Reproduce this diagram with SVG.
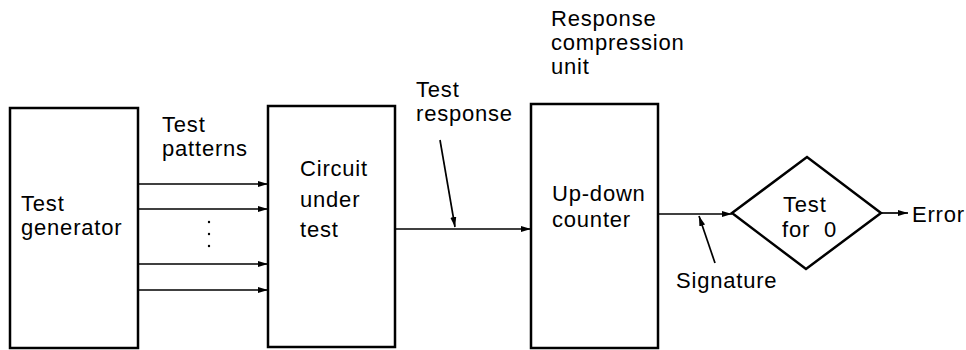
<svg xmlns="http://www.w3.org/2000/svg" width="966" height="350" viewBox="0 0 966 350">
<style>
.box{fill:none;stroke:#000;stroke-width:2.5}
.ln{fill:none;stroke:#000;stroke-width:1.7}
text{font-family:"Liberation Sans",Arial,sans-serif;font-size:22px;letter-spacing:0.8px;fill:#000}
</style>
<defs>
<marker id="ah" viewBox="0 0 10 8" refX="10" refY="4" markerWidth="10" markerHeight="8" markerUnits="userSpaceOnUse" orient="auto">
<path d="M0,1 L10,4 L0,7 z" fill="#000"/>
</marker>
</defs>
<rect width="966" height="350" fill="#fff"/>
<g id="test-generator">
<rect class="box" x="10" y="108" width="128" height="240"/>
<text x="21" y="211">Test<tspan x="21" y="235">generator</tspan></text>
</g>
<g id="cut">
<rect class="box" x="268" y="106" width="127" height="241"/>
<text x="300" y="176">Circuit<tspan x="300" y="207">under</tspan><tspan x="300" y="237">test</tspan></text>
</g>
<g id="counter">
<rect class="box" x="531" y="104" width="127" height="244"/>
<text x="552" y="201">Up-down<tspan x="552" y="227">counter</tspan></text>
</g>
<g id="test-for-0">
<polygon class="box" points="732,213 807,157 881,213 806,269"/>
<text x="783" y="212" xml:space="preserve">Test<tspan x="782" y="237">for  0</tspan></text>
</g>
<g id="labels">
<text x="162" y="132">Test<tspan x="162" y="156">patterns</tspan></text>
<text x="416" y="97">Test<tspan x="416" y="121">response</tspan></text>
<text x="551" y="26">Response<tspan x="551" y="50">compression</tspan><tspan x="551" y="74">unit</tspan></text>
<text x="676" y="288">Signature</text>
<text x="912" y="222">Error</text>
<g fill="#000"><circle cx="209" cy="222" r="1.2"/><circle cx="209" cy="234" r="1.2"/><circle cx="209" cy="246" r="1.2"/></g>
</g>
<g id="connectors">
<line class="ln" x1="138" y1="184" x2="268" y2="184" marker-end="url(#ah)"/>
<line class="ln" x1="138" y1="209" x2="268" y2="209" marker-end="url(#ah)"/>
<line class="ln" x1="138" y1="264" x2="268" y2="264" marker-end="url(#ah)"/>
<line class="ln" x1="138" y1="290" x2="268" y2="290" marker-end="url(#ah)"/>
<line class="ln" x1="395" y1="229" x2="531" y2="229" marker-end="url(#ah)"/>
<line class="ln" x1="440" y1="140" x2="455" y2="227" marker-end="url(#ah)"/>
<line class="ln" x1="658" y1="214" x2="732" y2="214" marker-end="url(#ah)"/>
<line class="ln" x1="715" y1="263" x2="699" y2="216" marker-end="url(#ah)"/>
<line class="ln" x1="881" y1="213" x2="908" y2="213" marker-end="url(#ah)"/>
</g>
</svg>
